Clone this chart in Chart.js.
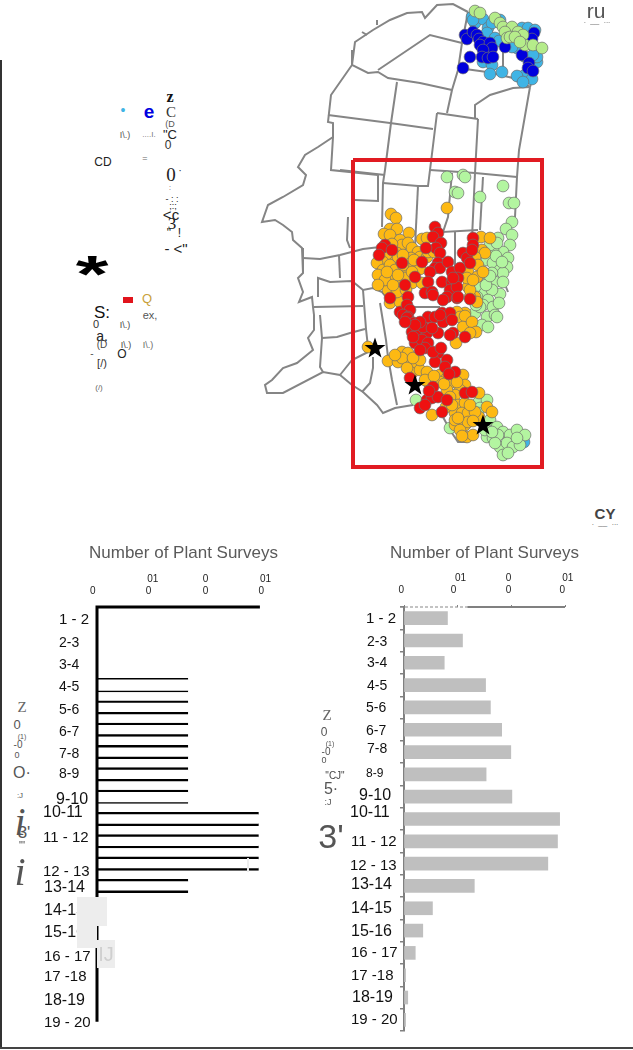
<!DOCTYPE html>
<html>
<head>
<meta charset="utf-8">
<title>Plant surveys</title>
<script src="https://cdn.jsdelivr.net/npm/chart.js@4"></script>
<style>
  html, body { margin: 0; padding: 0; background: #fff; }
  #page { position: relative; width: 633px; height: 1050px; overflow: hidden; font-family: "Liberation Sans", Arial, sans-serif; }
  canvas { position: absolute; }
  .note { position: absolute; white-space: pre; line-height: 1; transform: translate(-50%, -50%); z-index: 5; }
  .patch { position: absolute; z-index: 4; }
</style>
</head>
<body>
<div id="page">
  <canvas id="mapChart" width="393" height="480" style="left:240px;top:0"></canvas>
  <canvas id="leftChart" width="286" height="510" style="left:40px;top:530px"></canvas>
  <canvas id="rightChart" width="296" height="510" style="left:337px;top:530px"></canvas>
</div>
<script>
// bar charts
const hourBins = ['1 - 2','2-3','3-4','4-5','5-6','6-7','7-8','8-9','9-10','10-11','11 - 12','12 - 13','13-14','14-15','15-16','16 - 17','17 -18','18-19','19 - 20'];
const leftValues = [0,0,0,168,168,168,168,168,168,298,298,298,168,0,0,0,0,0,0];
const rightValues = [81,109,75,152,161,182,199,153,201,290,286,268,131,53,35,21,3,7,3];
const surveyTicks = [0,100,200,300];
const leftTickLabels = [['0   '],[' 01','0  '],['0','0'],['    01',' 0']];
const rightTickLabels = [['0  '],['  01','0   '],['0  ','0  '],['  01','0  ']];
const axisTitle = 'Number of Plant Surveys';

// where the row labels sit, they wander a bit in the source
const leftLabelX = [19,19,19,19,19,19,19,19,16,3,3,3,4,4,4,4,4,4,4];
const leftLabelDy = [2,3,2,2,3,2,2,0,3,-6,-3,8,2,2,2,4,2,3,3];
const rightLabelX = [29,30,30,30,29,29,30,29,22,13,14,13,14,14,14,14,14,15,14];
const rightLabelDy = [1,2,0,1,1,1,-3,-1,-1,-6,1,2,-1,0,1,0,1,0,0];

// map, in the map's own grid units
const coastLine = [[468,12],[453,4],[437,5],[425,18],[422,12],[407,13],[390,20],[373,30],[355,42],[352,65],[331,95],[329,113],[328,122],[333,123],[333,137],[318,147],[305,155],[298,167],[306,175],[303,185],[283,197],[268,205],[262,222],[275,220],[283,225],[292,232],[293,240],[302,248],[303,258],[303,273],[298,278],[303,292],[299,302],[312,297],[313,307],[314,315],[314,330],[308,338],[313,350],[297,363],[283,368],[272,380],[265,385],[267,393],[283,393],[323,372],[340,375],[352,385],[363,392],[377,405],[383,413],[395,408],[413,405]];
const borderLines = [
  [[352,50],[352,65],[368,73],[378,72],[388,78],[420,83],[452,90]],
  [[378,70],[430,35],[462,43]],
  [[468,12],[462,43],[458,70],[452,90],[447,113]],
  [[397,82],[391,123],[385,170],[383,183],[382,227]],
  [[328,115],[390,123],[433,129]],
  [[437,113],[478,119]],
  [[437,113],[430,170],[428,186],[418,186],[383,183]],
  [[475,118],[475,105],[490,95],[513,88],[530,87]],
  [[478,119],[475,173],[472,238]],
  [[530,87],[519,150],[517,177],[515,217]],
  [[458,68],[487,72],[513,78],[530,87]],
  [[503,43],[503,77]],
  [[542,50],[537,63],[530,87]],
  [[333,137],[331,170],[378,175],[378,201],[355,200]],
  [[385,175],[340,170]],
  [[418,186],[415,247]],
  [[430,170],[475,173],[517,177]],
  [[452,173],[448,217],[443,232],[478,230]],
  [[483,177],[480,230]],
  [[455,232],[455,273]],
  [[348,217],[347,240],[350,248]],
  [[303,258],[320,259],[340,255],[363,249],[380,247]],
  [[339,255],[340,278]],
  [[318,297],[318,278],[330,282],[352,281],[363,290],[373,288],[382,292],[387,298]],
  [[314,307],[363,306]],
  [[320,315],[322,338],[320,367],[323,372]],
  [[322,338],[337,337],[350,333],[365,329]],
  [[363,290],[366,329],[368,347]],
  [[380,303],[386,340],[388,357],[392,380],[397,405]],
  [[373,357],[373,368],[370,383],[362,392]],
  [[340,375],[352,360],[368,352]],
  [[413,307],[440,307]],
  [[443,417],[450,430],[458,442],[467,442]],
  [[362,32],[367,35]],
  [[377,20],[377,25]],
  [[506,287],[508,292]]
];
const studyBox = [[353,160],[542,160],[542,467],[353,467],[353,160]];
const blueSites = [[465,35],[467,39],[473,32],[477,35],[479,39],[483,42],[480,45],[490,43],[492,48],[483,50],[482,57],[488,58],[493,57],[470,57],[463,68],[505,47],[534,33],[532,39],[522,55],[529,63],[528,68],[533,71]];
const cyanSites = [[472,17],[475,23],[483,19],[488,28],[492,23],[487,33],[495,38],[499,41],[510,45],[517,48],[524,56],[537,50],[537,62],[483,62],[492,65],[490,74],[502,72],[520,77],[525,75],[532,79],[517,76],[523,82],[522,28],[528,28],[535,30],[537,57],[500,20],[512,47],[533,55],[473,20]];
const limeSites = [[475,11],[480,13],[495,18],[500,23],[503,27],[512,27],[505,32],[507,38],[518,32],[523,35],[525,45],[533,45],[542,48],[510,37],[515,37],[520,42]];
const greenSites = [[447,177],[463,175],[465,177],[455,192],[458,193],[480,197],[503,186],[509,203],[514,203],[512,222],[506,229],[512,235],[510,245],[498,238],[503,252],[493,250],[498,262],[508,258],[507,267],[490,245],[497,243],[487,260],[493,263],[500,270],[503,273],[492,273],[483,272],[488,282],[495,282],[503,282],[480,287],[485,293],[500,294],[492,290],[488,300],[483,305],[493,307],[475,313],[487,317],[495,315],[477,297],[480,307],[497,317],[482,325],[488,327],[416,400],[478,403],[487,400],[480,408],[473,412],[450,428],[490,420],[497,427],[503,432],[510,435],[517,430],[525,435],[487,437],[493,438],[500,447],[507,443],[513,447],[520,445],[503,455],[517,438],[498,435],[478,413],[495,443],[508,453],[485,430],[492,432],[496,256],[502,262],[486,285],[490,276],[476,305],[499,303]];
const orangeSites = [[391,214],[396,218],[390,229],[397,229],[384,234],[390,235],[409,233],[447,208],[422,239],[427,238],[400,240],[402,245],[408,243],[412,248],[418,252],[420,257],[411,258],[427,257],[428,252],[434,252],[388,254],[395,262],[397,253],[383,262],[377,263],[383,270],[390,265],[398,257],[402,273],[408,269],[413,267],[420,269],[383,282],[392,278],[398,283],[388,290],[412,283],[422,283],[405,278],[378,275],[390,303],[400,302],[395,270],[414,260],[397,292],[385,280],[403,265],[481,237],[490,238],[482,250],[485,253],[475,257],[478,265],[468,272],[477,277],[468,287],[467,278],[475,297],[477,302],[465,313],[457,312],[460,317],[483,272],[470,297],[387,272],[393,285],[406,290],[412,272],[403,255],[392,244],[378,285],[398,275],[456,343],[465,316],[463,327],[472,322],[476,332],[470,333],[368,347],[388,361],[402,352],[407,360],[398,362],[408,353],[415,365],[412,373],[420,370],[427,372],[440,375],[447,378],[450,383],[463,375],[465,385],[460,390],[457,382],[455,395],[458,405],[465,403],[455,413],[462,413],[468,413],[455,425],[465,425],[467,437],[473,435],[479,393],[487,407],[492,412],[479,417],[432,415],[446,407],[428,382],[440,382],[447,390],[455,420],[460,430],[468,422],[475,412],[450,397],[402,358],[407,368],[420,360],[395,355],[413,358],[425,380],[434,376],[444,384],[452,405],[458,418],[470,405],[473,421],[462,436],[470,290],[473,280]];
const redSites = [[435,227],[438,233],[433,237],[441,243],[436,248],[440,253],[385,245],[382,248],[379,255],[392,250],[426,248],[402,263],[438,263],[435,268],[440,268],[448,262],[430,272],[428,282],[415,277],[405,285],[408,297],[390,298],[425,293],[432,292],[433,295],[442,282],[452,272],[460,268],[463,253],[467,258],[470,263],[473,238],[473,245],[472,250],[452,282],[458,278],[450,290],[457,287],[447,297],[443,300],[457,298],[470,299],[422,262],[400,312],[407,305],[410,310],[403,315],[408,317],[428,317],[435,317],[442,313],[450,313],[458,297],[453,278],[407,318],[412,332],[418,330],[427,333],[415,343],[422,340],[428,343],[425,348],[438,333],[443,322],[453,333],[450,335],[465,337],[438,353],[435,362],[447,360],[445,367],[455,372],[433,387],[465,393],[472,392],[427,400],[420,408],[432,398],[438,397],[447,400],[442,412],[413,337],[420,350],[440,315],[452,320],[423,327],[410,378],[414,323],[420,322],[432,328],[433,352],[441,348],[449,374],[425,405],[429,391],[415,325],[405,322]];
const waterSites = [[512,438],[524,442]];
const starSites = [[375,348],[415,385],[483,425]];

// stray text of the scanned original: text, x, y, size, colour, font
const SERIF = '"Liberation Serif", serif';
const SANS = '"Liberation Sans", sans-serif';
const strayText = [
  ['z',170,97,16,'#111','bold ' ,SERIF],['C',171,112,15,'#333','',SERIF],['(D',170,124,9,'#555','',SANS],['"C',170,134,13,'#222','',SANS],['0',168,145,12,'#333','',SANS],
  ['•',123,110,14,'#3fb4e5','',SANS],['e',149,111,19,'#0000e0','bold ',SANS],['I\\.)',125,135,9,'#555','',SANS],['....I.',149,135,8,'#777','',SANS],
  ['CD',103,162,12,'#222','',SANS],['=',145,158,9,'#666','',SANS],['0',171,174,19,'#222','',SERIF],['·',180,170,11,'#333','',SANS],[':',170,187,7,'#555','',SANS],
  ['- : :',172,199,9,'#222','',SANS],[';:;',173,206,9,'#222','',SANS],['<c',171,214,15,'#222','',SANS],['3',172,223,17,'#222','',SERIF],['"  !',174,233,12,'#222','',SANS],['- <"',176,248,15,'#222','',SANS],
  ['*',92,274,84,'#000','bold ',SANS,0.62],['Q',147,298,13,'#c9a13b','',SANS],['S:',102,312,17,'#111','',SANS],['ex,',150,315,11,'#555','',SANS],['0',96,324,11,'#333','',SANS],
  ['I\\.)',125,325,9,'#444','',SANS],['a.',102,336,14,'#222','',SANS],['(D',102,345,10,'#444','',SANS],['I\\.)',126,345,9,'#444','',SANS],['I\\.)',148,345,9,'#666','',SANS],
  ['-',92,354,10,'#555','',SANS],['O',122,354,12,'#222','',SANS],['[/)',102,363,11,'#333','',SANS],['(/)',99,388,8,'#666','',SANS],
  ['Z',22,707,15,'#666','',SERIF],['0',17,724,13,'#555','',SANS],['(1)',22,736,7,'#555','',SANS],['-0',18,745,10,'#555','',SANS],['0',17,755,9,'#555','',SANS],['O·',22,773,16,'#555','',SANS],[':J',20,796,8,'#555','',SANS],
  ['i',20,822,40,'#555','italic ',SERIF],["3'",24,832,17,'#555','',SANS],['"\'',22,845,11,'#444','',SANS],['i',20,872,40,'#555','italic ',SERIF],
  ['Z',327,715,15,'#666','',SERIF],['0',324,732,12,'#555','',SANS],['(1)',330,743,7,'#555','',SANS],['-0',326,752,10,'#555','',SANS],['0',324,760,9,'#555','',SANS],['"CJ"',335,776,10,'#444','',SANS],['5·',331,789,16,'#555','',SANS],[':J',328,802,9,'#555','',SANS],["3'",331,836,34,'#555','',SANS],
  ['ru',596,10,21,'#555','',SANS],['.  __  ...',597,21,8,'#666','',SANS],['CY',605,513,15,'#444','bold ',SANS],['.  __  ...',605,523,8,'#666','',SANS],
  ['IJ',106,954,20,'#cfcfcf','',SANS]
];
const greyPatches = [[77,897,30,29],[77,926,20,22],[97,940,18,28],[247,858,2,14]];
const frameRules = [[0,60,2.3,988,'#333'],[0,1047,633,1.5,'#444'],[123,297,10,6,'#e1141c']];

const page = document.getElementById('page');
frameRules.forEach(r => addBlock(r[0], r[1], r[2], r[3], r[4]));
greyPatches.forEach(r => addBlock(r[0], r[1], r[2], r[3], '#ededed'));
strayText.forEach(t => {
  const el = document.createElement('span');
  el.className = 'note';
  el.textContent = t[0];
  el.style.left = t[1] + 'px';
  el.style.top = t[2] + 'px';
  el.style.font = t[5] + t[3] + 'px ' + t[6];
  el.style.lineHeight = '1';
  el.style.color = t[4];
  if (t[7]) el.style.transform = `translate(-50%, -50%) scaleY(${t[7]})`;
  page.appendChild(el);
});

function addBlock(x, y, w, h, color) {
  const el = document.createElement('div');
  el.className = 'patch';
  el.style.cssText = `left:${x}px;top:${y}px;width:${w}px;height:${h}px;background:${color}`;
  page.appendChild(el);
}

Chart.defaults.font.family = '"Liberation Sans", Arial, sans-serif';
Chart.defaults.animation = false;

function pairs(list) {
  return list.map(p => ({ x: p[0], y: p[1] }));
}

function rowLabels(xs, dys) {
  return {
    id: 'rowLabels',
    afterDraw(chart) {
      const ctx = chart.ctx;
      const s = chart.scales.y;
      ctx.save();
      ctx.fillStyle = '#111';
      ctx.textAlign = 'left';
      ctx.textBaseline = 'middle';
      hourBins.forEach((label, i) => {
        let size = 14;
        if (label.length > 3) size = label.indexOf(' ') < 0 ? 16 : 15;
        if (label.length === 5 && i < 2) size = 15;
        if (label === '8-9' && xs === rightLabelX) size = 12;
        ctx.font = size + 'px "Liberation Sans"';
        ctx.fillText(label, xs[i], s.getPixelForTick(i) + dys[i]);
      });
      // the scale's own title gets squeezed to the axis width, so it goes here
      const x = chart.scales.x;
      ctx.font = '17px "Liberation Sans"';
      ctx.fillStyle = '#5a5a5a';
      ctx.textAlign = 'center';
      ctx.fillText(axisTitle, (x.left + x.right) / 2, 23);
      ctx.restore();
    }
  };
}

// the left axes stop at the last row and at 300, not at the end of the band
const leftAxes = {
  id: 'leftAxes',
  afterDatasetsDraw(chart) {
    const ctx = chart.ctx;
    const y = chart.scales.y;
    const x = chart.scales.x;
    const x0 = x.getPixelForValue(0);
    ctx.save();
    ctx.strokeStyle = '#000';
    ctx.lineWidth = 3;
    ctx.beginPath();
    ctx.moveTo(x.getPixelForValue(300), y.top);
    ctx.lineTo(x0, y.top);
    ctx.lineTo(x0, y.getPixelForTick(hourBins.length - 1) + 2);
    ctx.stroke();
    ctx.restore();
  }
};

// top axis of the right chart fades out to dashes near zero
const dashedAxis = {
  id: 'dashedAxis',
  afterDraw(chart) {
    const ctx = chart.ctx;
    const x = chart.scales.x;
    const y = chart.chartArea.top;
    ctx.save();
    ctx.strokeStyle = '#808080';
    ctx.lineWidth = 2;
    ctx.beginPath();
    ctx.moveTo(x.getPixelForValue(118), y);
    ctx.lineTo(x.getPixelForValue(300), y);
    ctx.stroke();
    ctx.lineWidth = 1.2;
    ctx.strokeStyle = '#888';
    ctx.setLineDash([3, 2]);
    ctx.beginPath();
    ctx.moveTo(x.getPixelForValue(0) - 4, y);
    ctx.lineTo(x.getPixelForValue(118), y);
    ctx.stroke();
    ctx.restore();
  }
};

function barOptions(o) {
  return {
    responsive: false,
    indexAxis: 'y',
    layout: { padding: { right: o.right, bottom: 9 } },
    plugins: { legend: { display: false }, tooltip: { enabled: false } },
    scales: {
      x: {
        position: 'top',
        min: 0,
        max: o.max,
        afterBuildTicks: s => { s.ticks = surveyTicks.map(v => ({ value: v })); },
        afterFit: s => { s.height = 77; },
        border: { display: false },
        grid: { drawOnChartArea: false, drawTicks: o.marks, tickLength: 2, color: '#808080', tickColor: '#808080' },
        ticks: {
          color: '#222',
          font: { size: 10 },
          padding: o.pad,
          maxRotation: 0,
          callback: (v, i) => o.labels[i]
        }
      },
      y: {
        afterFit: s => { s.width = o.left; },
        border: o.spine,
        grid: { drawOnChartArea: false, drawTicks: o.marks, tickLength: 4, color: '#808080', tickColor: '#808080', lineWidth: 1.5 },
        ticks: { display: false }
      }
    }
  };
}

new Chart(document.getElementById('leftChart'), {
  type: 'bar',
  data: {
    labels: hourBins,
    datasets: [{
      data: leftValues,
      barThickness: 13.4,
      backgroundColor: '#fff',
      borderColor: '#000',
      borderSkipped: false,
      borderWidth: c => {
        const w = c.dataIndex === 3 ? 1.5 : 2.4;
        const b = c.dataIndex === 8 ? 1.5 : w;
        return { top: w, bottom: b, left: 0, right: 0 };
      }
    }]
  },
  options: barOptions({ left: 57, right: 56, max: 318.6, pad: 9.5, marks: false, labels: leftTickLabels, spine: { display: false } }),
  plugins: [rowLabels(leftLabelX, leftLabelDy), leftAxes]
});

new Chart(document.getElementById('rightChart'), {
  type: 'bar',
  data: {
    labels: hourBins,
    datasets: [{
      data: rightValues,
      barThickness: 13,
      backgroundColor: '#bfbfbf',
      borderWidth: 0
    }]
  },
  options: barOptions({ left: 67, right: 68, max: 300, pad: 9, marks: true, labels: rightTickLabels, spine: { display: true, color: '#808080', width: 2 } }),
  plugins: [rowLabels(rightLabelX, rightLabelDy), dashedAxis]
});

function makeStar() {
  const c = document.createElement('canvas');
  c.width = 22;
  c.height = 22;
  const g = c.getContext('2d');
  g.fillStyle = '#000';
  g.beginPath();
  for (let i = 0; i < 10; i++) {
    const r = i % 2 ? 4.4 : 11;
    const a = -Math.PI / 2 + i * Math.PI / 5;
    g.lineTo(11 + r * Math.cos(a), 11.5 + r * Math.sin(a));
  }
  g.closePath();
  g.fill();
  return c;
}

function siteSet(list, color, order) {
  return {
    type: 'scatter',
    data: pairs(list),
    backgroundColor: color,
    borderColor: '#6e6e6e',
    borderWidth: 0.7,
    pointRadius: 5.9,
    order: order
  };
}

function lineSet(list, color, width, order) {
  return {
    type: 'scatter',
    data: pairs(list),
    showLine: true,
    fill: false,
    borderColor: color,
    borderWidth: width,
    pointRadius: 0,
    order: order
  };
}

new Chart(document.getElementById('mapChart'), {
  type: 'scatter',
  data: {
    datasets: [
      lineSet(coastLine, '#858585', 2, 20),
      ...borderLines.map(l => lineSet(l, '#858585', 2, 20)),
      lineSet(studyBox, '#e11b22', 4, 1),
      siteSet(cyanSites, '#3fb4e5', 10),
      siteSet(blueSites, '#0000dd', 9),
      siteSet(limeSites, '#b5ec8a', 8),
      siteSet(greenSites, '#b3f5a0', 7),
      siteSet(waterSites, '#3fb4e5', 11),
      siteSet(orangeSites, '#fdb913', 6),
      siteSet(redSites, '#ee1111', 5),
      { type: 'scatter', data: pairs(starSites), pointStyle: makeStar(), order: 2 }
    ]
  },
  options: {
    responsive: false,
    layout: { padding: 0, autoPadding: false },
    plugins: { legend: { display: false }, tooltip: { enabled: false } },
    scales: {
      x: { display: false, min: 240, max: 633 },
      y: { display: false, min: 0, max: 480, reverse: true }
    }
  }
});
</script>
</body>
</html>
